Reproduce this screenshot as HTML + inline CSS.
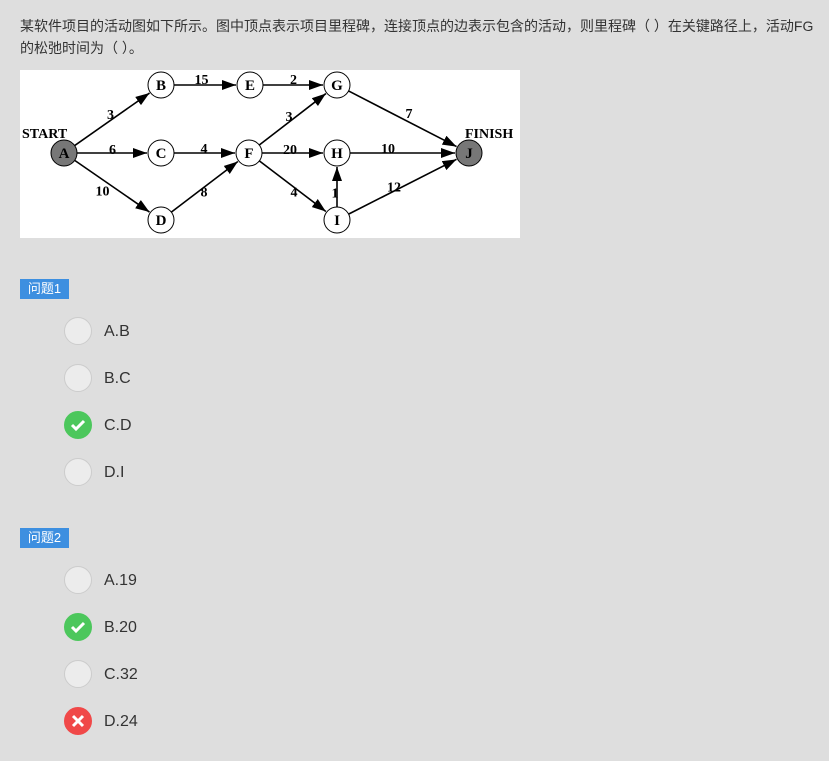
<!DOCTYPE html>
<html><head><meta charset="utf-8"><style>
body{margin:0;width:829px;height:761px;background:#dedede;font-family:"Liberation Sans","Noto Sans CJK SC",sans-serif;position:relative;overflow:hidden}
.q{position:absolute;left:20px;top:15px;width:800px;font-size:14px;line-height:22px;color:#333}
.tag{position:absolute;left:20px;width:49px;height:20px;background:#3d8fe0;color:#fff;font-size:13px;line-height:20px;text-align:center}
.opt{position:absolute;left:64px;height:28px;font-size:16px;color:#333;line-height:30px}
.opt .c{position:absolute;left:0;top:0;width:26px;height:26px;border-radius:50%;background:#ececec;border:1px solid #ccc}
.opt .c.ok{background:#4cc75c;border-color:#4cc75c}
.opt .c.bad{background:#f04848;border-color:#f04848}
.opt span{position:absolute;left:40px;white-space:nowrap}
</style></head><body>
<div class="q">某软件项目的活动图如下所示。图中顶点表示项目里程碑，连接顶点的边表示包含的活动，则里程碑（ ）在关键路径上，活动FG的松弛时间为（ ）。</div>
<svg id="g" style="position:absolute;left:20px;top:70px" width="500" height="168"></svg>
<div class="tag" style="top:279px">问题1</div>
<div class="opt" style="top:317px"><div class="c"></div><span>A.B</span></div>
<div class="opt" style="top:364px"><div class="c"></div><span>B.C</span></div>
<div class="opt" style="top:411px"><div class="c ok"><svg width="26" height="26"><path d="M7 13l4 4 8-8" stroke="#fff" stroke-width="3" fill="none"/></svg></div><span>C.D</span></div>
<div class="opt" style="top:458px"><div class="c"></div><span>D.I</span></div>
<div class="tag" style="top:528px">问题2</div>
<div class="opt" style="top:566px"><div class="c"></div><span>A.19</span></div>
<div class="opt" style="top:613px"><div class="c ok"><svg width="26" height="26"><path d="M7 13l4 4 8-8" stroke="#fff" stroke-width="3" fill="none"/></svg></div><span>B.20</span></div>
<div class="opt" style="top:660px"><div class="c"></div><span>C.32</span></div>
<div class="opt" style="top:707px"><div class="c bad"><svg width="26" height="26"><path d="M8 8l10 10M18 8l-10 10" stroke="#fff" stroke-width="3"/></svg></div><span>D.24</span></div>
<script>
const nodeNames=["A","B","C","D","E","F","G","H","I","J"];
const nodeX=[44,141,141,141,230,229,317,317,317,449];
const nodeY=[83,15,83,150,15,83,15,83,150,83];
const edgeFrom=["A","A","A","B","E","C","D","F","F","F","G","H","I","I"];
const edgeTo=["B","C","D","E","G","F","F","G","H","I","J","J","H","J"];
const edgeW=[3,6,10,15,2,4,8,3,20,4,7,10,1,12];
const labelOff=[[-2,-5],[0,-4],[-10,4],[-4,-6],[0,-6],[-1,-5],[-1,5],[-4,-3],[-3,-4],[1,5],[6,-6],[-15,-5],[-2,6],[-9,0]];
const S="http://www.w3.org/2000/svg",g=document.getElementById('g');
function mk(t,a){const e=document.createElementNS(S,t);for(const k in a)e.setAttribute(k,a[k]);g.appendChild(e);return e;}
mk('rect',{x:0,y:0,width:500,height:168,fill:'#fff'});
const defs=mk('defs',{});defs.innerHTML='<marker id="ar" markerWidth="14" markerHeight="10" refX="14" refY="5" orient="auto" markerUnits="userSpaceOnUse"><path d="M0 0L14 5L0 10z"/></marker>';
const R=13;
edgeFrom.forEach((f,i)=>{const a=nodeNames.indexOf(f),b=nodeNames.indexOf(edgeTo[i]);
const x1=nodeX[a],y1=nodeY[a],x2=nodeX[b],y2=nodeY[b],d=Math.hypot(x2-x1,y2-y1),ux=(x2-x1)/d,uy=(y2-y1)/d;
const l=mk('line',{x1:x1+ux*R,y1:y1+uy*R,x2:x2-ux*(R+1),y2:y2-uy*(R+1),stroke:'#000','stroke-width':1.6,'marker-end':'url(#ar)'});


const t=mk('text',{x:(x1+x2)/2+labelOff[i][0],y:(y1+y2)/2+labelOff[i][1]+5,'font-family':'Liberation Serif','font-weight':'bold','font-size':14,'text-anchor':'middle'});t.textContent=edgeW[i];

});
nodeNames.forEach((n,i)=>{const grey=(n=='A'||n=='J');
const c=mk('circle',{cx:nodeX[i],cy:nodeY[i],r:R,fill:grey?'#777':'#fff',stroke:'#000','stroke-width':1});


const t=mk('text',{x:nodeX[i],y:nodeY[i]+5,'font-family':'Liberation Serif','font-weight':'bold','font-size':15,'text-anchor':'middle'});t.textContent=n;});
const s=mk('text',{x:2,y:68,'font-family':'Liberation Serif','font-weight':'bold','font-size':14});s.textContent='START';


const fi=mk('text',{x:445,y:68,'font-family':'Liberation Serif','font-weight':'bold','font-size':14});fi.textContent='FINISH';


</script>
</body></html>
